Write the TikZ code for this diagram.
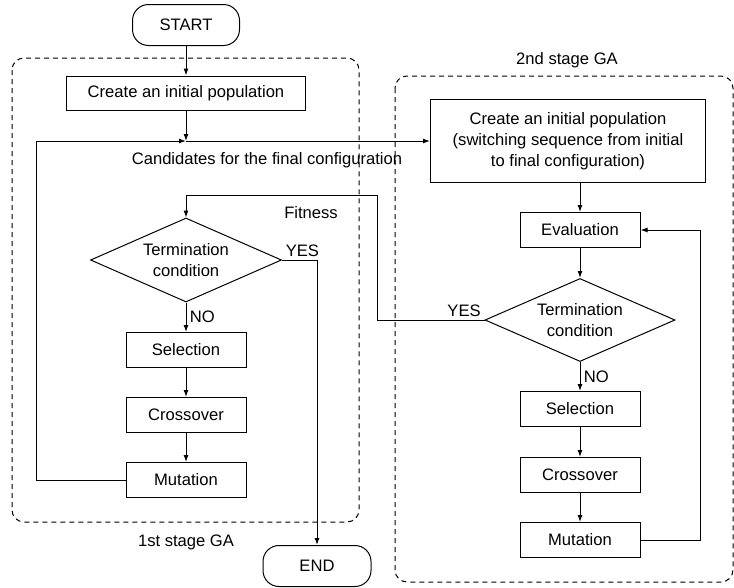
\documentclass[tikz,border=0pt]{standalone}
\usepackage{fontspec}
\setmainfont{Liberation Sans}
\usetikzlibrary{shapes.geometric,arrows.meta}

\tikzset{
  box/.style={draw, rectangle, inner sep=0pt, minimum width=120pt, minimum height=35pt},
  term/.style={draw, rectangle, rounded corners=16pt, inner sep=0pt, minimum width=107pt, minimum height=41pt},
  cond/.style={draw, diamond, aspect=2.27, inner sep=0pt, minimum width=191pt, minimum height=84pt, align=center},
  stage/.style={draw, dash pattern=on 5pt off 4pt, rounded corners=12pt},
}

\begin{document}
\begin{tikzpicture}[x=1pt, y=-1pt, line width=1pt, >={Latex[length=7pt,width=5pt]},
    font=\fontsize{16.6}{21}\selectfont]
      \useasboundingbox (0,0) rectangle (734,587);
      \draw[stage] (12,58) rectangle (359,522);
      \draw[stage] (395,76) rectangle (733,582);
      \node (L1) at (186,542) {1st stage GA};
      \node (L2) at (567,60) {2nd stage GA};
      \node[term] (S) at (186,25) {START};
      \node[box, minimum width=239pt, minimum height=34pt] (I1) at (186,93) {Create an initial population};
      \node[cond] (T1) at (186,260) {Termination\\condition};
      \node[box] (S1) at (186,350) {Selection};
      \node[box] (C1) at (186,415) {Crossover};
      \node[box] (M1) at (186,480) {Mutation};
      \node[term, minimum width=108pt] (E) at (317,566) {END};
      \node[box, minimum width=275pt, minimum height=83pt, align=center] (I2) at (568,141)
        {Create an initial population\\(switching sequence from initial\\to final configuration)};
      \node[box] (V2) at (580,230) {Evaluation};
      \node[cond, minimum width=190pt, minimum height=83pt] (T2) at (580,320) {Termination\\condition};
      \node[box] (S2) at (580,409) {Selection};
      \node[box] (C2) at (580,475) {Crossover};
      \node[box] (M2) at (580,540) {Mutation};
      \node (cand) at (267,160) {Candidates for the final configuration};
      \node (fit) at (311,213) {Fitness};
      \coordinate (J) at (186,141);
      \coordinate (back) at (36,141);
      \coordinate (up) at (377,195);
      \draw[->] (S) to (I1);
      \draw[->] (I1) to (J);
      \draw[->] (M1.west) -| (back) -- (J);
      \draw[->] (J) to (I2.west);
      \draw[->] (T1.east) node[above right] {YES} -| (E.north);
      \draw[->] (T1) to node[right] {NO} (S1);
      \draw[->] (S1) to (C1);
      \draw[->] (C1) to (M1);
      \draw[->] (I2.south -| V2.north) to (V2);
      \draw[->] (V2) to (T2);
      \draw[->] (T2) to node[right] {NO} (S2);
      \draw[->] (S2) to (C2);
      \draw[->] (C2) to (M2);
      \draw[->] (M2.east) -- ++(60,0) |- (V2.east);
      \draw[->] (T2.west) node[above left] {YES} -| (up) -| (T1.north);
    \end{tikzpicture}
\end{document}
